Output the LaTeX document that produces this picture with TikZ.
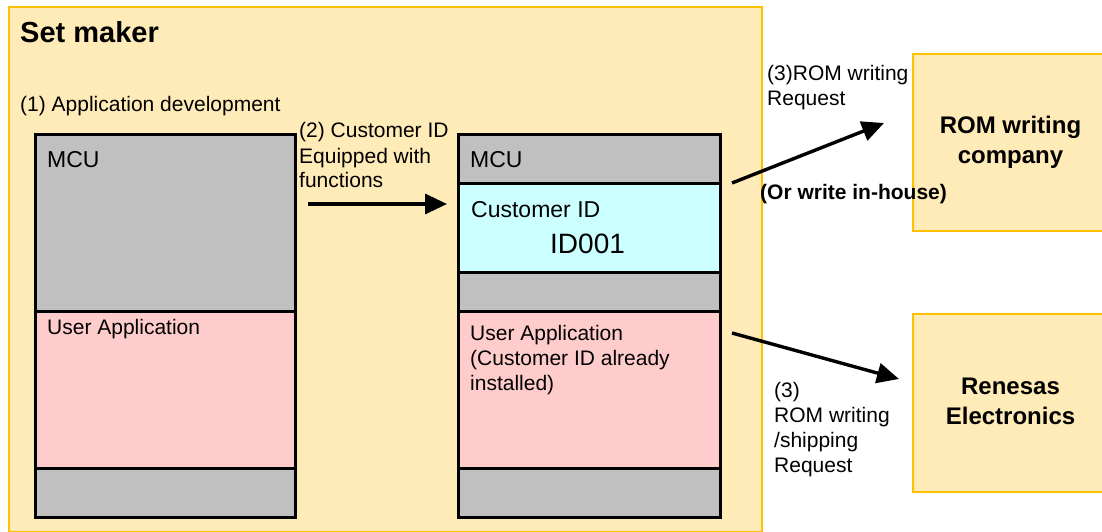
\documentclass[tikz,border=0pt]{standalone}
\usepackage{fontspec}
\setmainfont{Liberation Sans}
\usetikzlibrary{arrows.meta}
\definecolor{setfill}{HTML}{FFEBB7}
\definecolor{setborder}{HTML}{FFC000}
\definecolor{mcugray}{HTML}{C0C0C0}
\definecolor{apppink}{HTML}{FFCCCC}
\definecolor{idcyan}{HTML}{CCFFFF}
\newcommand{\txtlines}[1]{\begin{tabular}[t]{@{}l@{}}#1\end{tabular}}
\newcommand{\ctrlines}[1]{\begin{tabular}{@{}c@{}}#1\end{tabular}}
\begin{document}
\begin{tikzpicture}[x=1pt,y=-1pt,
  txt/.style={font=\fontsize{21}{25}\selectfont,inner sep=0pt,anchor=base west},
  bigtxt/.style={txt,font=\fontsize{23}{27}\selectfont},
  boldtxt/.style={font=\fontsize{21}{25}\selectfont\bfseries,inner sep=0pt,anchor=base west},
  panel/.style={fill=setfill,draw=setborder,line width=2pt,anchor=north west,inner sep=0pt},
  company/.style={panel,font=\fontsize{24}{30}\selectfont\bfseries},
  band/.style={draw=black,line width=2.5pt,anchor=north west,inner sep=0pt},
  flow/.style={line width=3.4pt,-{Triangle[length=22pt,width=20pt]}}]
\useasboundingbox (0,0) rectangle (1102,532);
% Set maker panel
\node[panel,minimum width=753pt,minimum height=525pt] (setmaker) at (8,6) {};
\node[font=\fontsize{29}{34}\selectfont\bfseries,inner sep=0pt,anchor=base west] (settitle) at (20,43) {Set maker};
% external companies
\node[company,minimum width=195pt,minimum height=177pt] (romco) at (912,53) {\ctrlines{ROM writing\\company}};
\node[company,minimum width=195pt,minimum height=178pt] (renesas) at (912,313) {\ctrlines{Renesas\\Electronics}};
% left MCU
\node[band,fill=mcugray,minimum width=260pt,minimum height=177pt] (lmcu) at (34,133) {};
\node[band,fill=apppink,minimum width=260pt,minimum height=157pt] (lapp) at (34,310) {};
\node[band,fill=mcugray,minimum width=260pt,minimum height=49pt] (lbot) at (34,467) {};
% right MCU
\node[band,fill=mcugray,minimum width=262pt,minimum height=49pt] (rmcu) at (457,133) {};
\node[band,fill=idcyan,minimum width=262pt,minimum height=89pt] (rid) at (457,182) {};
\node[band,fill=mcugray,minimum width=262pt,minimum height=39pt] (rgap) at (457,271) {};
\node[band,fill=apppink,minimum width=262pt,minimum height=157pt] (rapp) at (457,310) {};
\node[band,fill=mcugray,minimum width=262pt,minimum height=49pt] (rbot) at (457,467) {};
% texts
\node[txt] (appdev) at (20,112) {(1) Application development};
\node[bigtxt] (lmcut) at (47,167) {MCU};
\node[txt] (lappt) at (47,334) {User Application};
\node[bigtxt] (rmcut) at (470,167) {MCU};
\node[bigtxt] (ridt) at (471,217) {Customer ID};
\node[txt,font=\fontsize{28}{32}\selectfont] (idnum) at (550,253) {ID001};
\node[txt] (rappt) at (470,340) {\txtlines{User Application\\(Customer ID already\\installed)}};
\node[txt] (step2) at (299,138) {\txtlines{(2) Customer ID\\Equipped with\\functions}};
\node[txt] (step3a) at (767,81) {\txtlines{(3)ROM writing\\Request}};
\node[boldtxt] (inhouse) at (760,199) {(Or write in-house)};
\node[txt] (step3b) at (774,397) {\txtlines{(3)\\ROM writing\\/shipping\\Request}};
% arrows
\coordinate (a1s) at (308,204);
\coordinate (a1e) at (447,204);
\coordinate (a2s) at (732,183);
\coordinate (a2e) at (884,123);
\coordinate (a3s) at (732,333);
\coordinate (a3e) at (899,379);
\draw[flow] (a1s) -- (a1e);
\draw[flow] (a2s) -- (a2e);
\draw[flow] (a3s) -- (a3e);
\end{tikzpicture}
\end{document}
